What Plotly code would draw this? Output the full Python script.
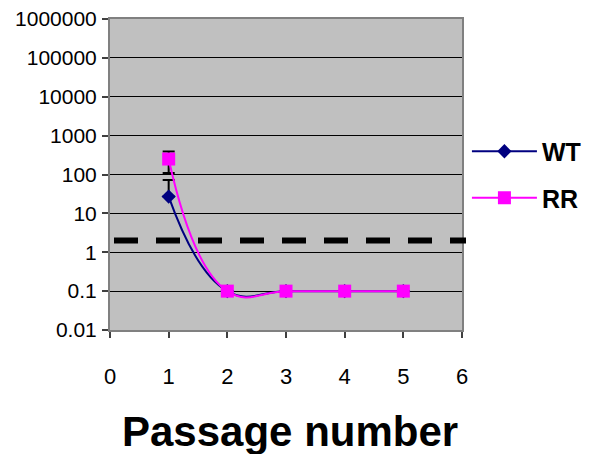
import plotly.graph_objects as go

passage = [1, 2, 3, 4, 5]
wt_values = [27, 0.1, 0.1, 0.1, 0.1]
wt_err_plus = [45, 0, 0, 0, 0]
wt_err_minus = [0, 0, 0, 0, 0]
rr_values = [250, 0.1, 0.1, 0.1, 0.1]
rr_err = [140, 0, 0, 0, 0]
detection_limit = 2
series_names = ["WT", "RR"]
y_tick_vals = [0.01, 0.1, 1, 10, 100, 1000, 10000, 100000, 1000000]
y_tick_text = ["0.01", "0.1", "1", "10", "100", "1000", "10000", "100000", "1000000"]
x_tick_vals = [0, 1, 2, 3, 4, 5, 6]
x_title = "Passage number"

FONT = "Arial, Liberation Sans, sans-serif"

fig = go.Figure()
fig.add_trace(go.Scatter(
    x=passage, y=wt_values, name=series_names[0], mode="lines+markers",
    legendgroup="wt",
    line=dict(color="#000080", width=2, shape="spline", smoothing=1.3),
    marker=dict(symbol="diamond", size=11, color="#000080"),
    error_y=dict(type="data", array=wt_err_plus, arrayminus=wt_err_minus,
                 color="black", thickness=2, width=6),
))
fig.add_trace(go.Scatter(
    x=passage, y=rr_values, name=series_names[1], mode="lines+markers",
    legendgroup="rr",
    line=dict(color="#FF00FF", width=2, shape="spline", smoothing=1.3),
    marker=dict(symbol="square", size=13, color="#FF00FF"),
    error_y=dict(type="data", array=rr_err, color="black", thickness=2, width=6),
))

fig.add_shape(type="line", xref="paper", yref="y",
              x0=4 / 352, x1=356 / 352, y0=detection_limit, y1=detection_limit,
              line=dict(color="black", width=6, dash="24px,18px"))

fig.add_annotation(text=x_title, xref="paper", yref="paper", x=0.51, y=(322 - 423) / 311,
                   xanchor="center", yanchor="middle", showarrow=False,
                   font=dict(size=42, family=FONT, weight="bold", color="black"))

fig.update_layout(
    width=590, height=454,
    margin=dict(l=102, r=136, t=11, b=132, autoexpand=False),
    paper_bgcolor="white", plot_bgcolor="#C0C0C0",
    font=dict(family=FONT, color="black"),
    showlegend=True,
    legend=dict(x=1.014, xanchor="left", y=0.5, yanchor="middle",
                font=dict(size=25, family=FONT, color="black", weight="bold"),
                bgcolor="rgba(0,0,0,0)", itemwidth=65, tracegroupgap=11),
    xaxis=dict(range=[0, 6], tickvals=x_tick_vals, ticks="outside", ticklen=6,
               tickcolor="#404040", tickwidth=1.5, showgrid=False, zeroline=False,
               showline=True, linecolor="#808080", linewidth=2, mirror=True,
               automargin=False, ticklabeloverflow="allow",
               tickfont=dict(size=22, family=FONT), ticklabelstandoff=20),
    yaxis=dict(type="log", range=[-2, 6], tickvals=y_tick_vals, ticktext=y_tick_text,
               ticks="outside", ticklen=6, tickcolor="#404040", tickwidth=1.5,
               showgrid=True, gridcolor="black", gridwidth=1, zeroline=False,
               showline=True, linecolor="#808080", linewidth=2, mirror=True,
               automargin=False, ticklabeloverflow="allow",
               tickfont=dict(size=21, family=FONT), ticklabelstandoff=1),
)

fig.write_html("out.html")
